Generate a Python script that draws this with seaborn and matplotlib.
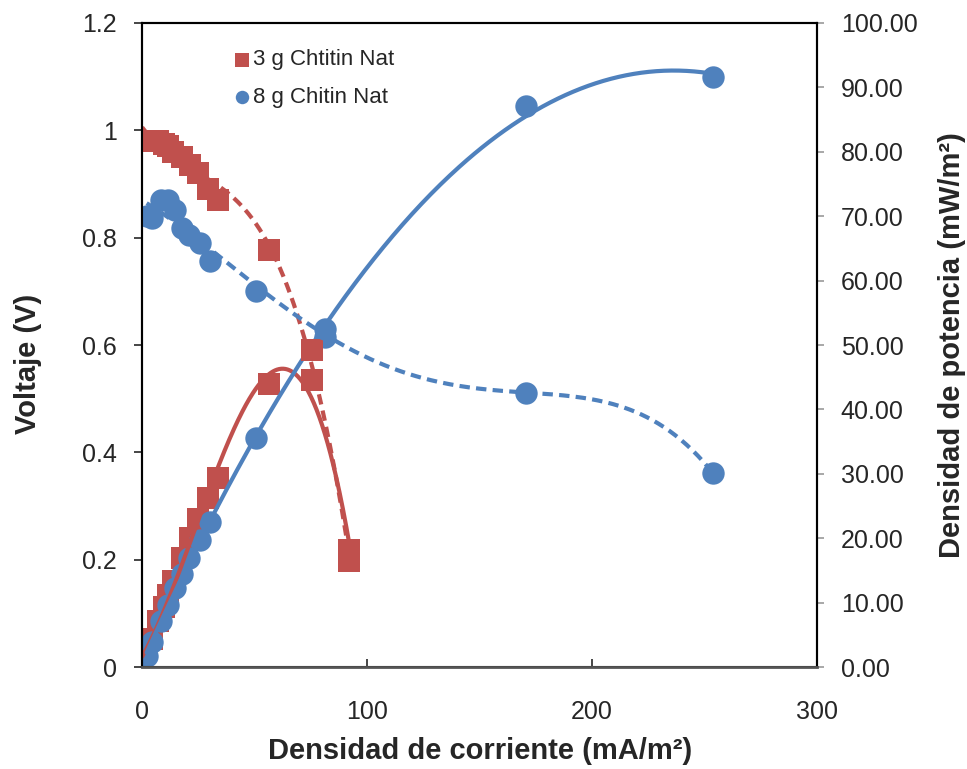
import matplotlib
matplotlib.use("Agg")
import matplotlib.pyplot as plt
import numpy as np
import pandas as pd
import seaborn as sns

# --------- Values --------- #
RED_LABEL = "3 g Chtitin Nat"
BLUE_LABEL = "8 g Chitin Nat"

# current density (mA/m2), voltage (V), power density (mW/m2)
red_x = [0, 4.4, 7.2, 9.5, 11.5, 13.9, 17.9, 21.4, 25.0, 29.4, 33.8, 56.6, 75.4, 92.0]
red_v = [0.98, 0.98, 0.98, 0.975, 0.97, 0.96, 0.95, 0.935, 0.92, 0.89, 0.87, 0.777, 0.59, 0.198]
red_p = [0, 4.3, 7.1, 9.3, 11.2, 13.3, 17.0, 20.0, 23.0, 26.2, 29.4, 44.0, 44.5, 18.2]

blue_x = [2.0, 4.6, 8.5, 11.5, 14.7, 17.8, 21.0, 25.5, 30.0, 50.7, 81.3, 170.7, 253.8]
blue_v = [0.84, 0.837, 0.87, 0.87, 0.851, 0.818, 0.805, 0.79, 0.756, 0.70, 0.63, 0.51, 0.361]
blue_p = [1.7, 3.9, 7.2, 9.6, 12.2, 14.5, 17.0, 19.8, 22.5, 35.5, 51.2, 87.1, 91.6]

RED = "#C0504D"
BLUE = "#4F81BD"


# --------- Polynomial trend line (like Excel) --------- #
def trend(x, y, deg):
    coef = np.polyfit(x, y, deg)
    xs = np.linspace(min(x), max(x), 300)
    return pd.DataFrame({"x": xs, "y": np.polyval(coef, xs)})


sns.set_style("white")
plt.rcParams["font.family"] = ["Liberation Sans", "DejaVu Sans"]

fig = plt.figure(figsize=(9.67, 7.69), dpi=100)
ax = fig.add_axes([0.147, 0.1326, 0.698, 0.8375])
ax2 = ax.twinx()

dash = (0, (2.5, 1.5))

# voltage (left axis)
rv = trend(red_x, red_v, 3)
bv = trend(blue_x, blue_v, 4)
sns.lineplot(data=rv, x="x", y="y", ax=ax, color=RED, lw=3, linestyle=dash)
sns.scatterplot(x=red_x, y=red_v, ax=ax, color=RED, marker="s", s=250, linewidth=0, label=RED_LABEL)
sns.lineplot(data=bv, x="x", y="y", ax=ax, color=BLUE, lw=3, linestyle=dash)
sns.scatterplot(x=blue_x, y=blue_v, ax=ax, color=BLUE, marker="o", s=260, linewidth=0, label=BLUE_LABEL)

# power density (right axis)
rp = trend(red_x, red_p, 3)
bp = trend(blue_x, blue_p, 2)
sns.scatterplot(x=red_x, y=red_p, ax=ax2, color=RED, marker="s", s=250, linewidth=0)
sns.lineplot(data=rp, x="x", y="y", ax=ax2, color=RED, lw=3)
sns.scatterplot(x=blue_x, y=blue_p, ax=ax2, color=BLUE, marker="o", s=260, linewidth=0)
sns.lineplot(data=bp, x="x", y="y", ax=ax2, color=BLUE, lw=3)

# axes
ax.set_xlim(0, 300)
ax.set_ylim(0, 1.2)
ax2.set_ylim(0, 100)
ax.set_xticks([0, 100, 200, 300])
ax.set_yticks(np.arange(0, 1.21, 0.2))
ax.set_yticklabels(["0", "0.2", "0.4", "0.6", "0.8", "1", "1.2"])
ax2.set_yticks(np.arange(0, 101, 10))
ax2.set_yticklabels([f"{v:.2f}" for v in np.arange(0, 101, 10)])

ax.set_xlabel("Densidad de corriente (mA/m²)", fontsize=21, fontweight="bold", labelpad=9)
ax.set_ylabel("Voltaje (V)", fontsize=21, fontweight="bold")
ax.yaxis.set_label_coords(-0.148, 0.47)
ax2.set_ylabel("Densidad de potencia (mW/m²)", fontsize=21, fontweight="bold", labelpad=15)

ax.tick_params(axis="y", direction="out", length=6, width=1.2, labelsize=18, pad=12)
ax.tick_params(axis="x", direction="in", length=6, width=1.2, labelsize=18, pad=24)
ax2.tick_params(axis="y", direction="out", length=5, width=1.2, color="#999999", labelsize=18, pad=12)
ax.tick_params(left=True, bottom=True)
ax2.tick_params(right=True)

for a in (ax, ax2):
    for sp in a.spines.values():
        sp.set_color("black")
        sp.set_linewidth(1.5)
ax.spines["bottom"].set_color("#555555")
ax.spines["bottom"].set_linewidth(2)

leg = ax.legend(loc="upper left", bbox_to_anchor=(0.105, 0.99), frameon=False, fontsize=16,
                markerscale=0.6, handletextpad=0.1, labelspacing=0.75, handlelength=0.8)
ax.set_zorder(ax2.get_zorder() + 1)
ax.patch.set_visible(False)

fig.savefig("out.png", dpi=100)
